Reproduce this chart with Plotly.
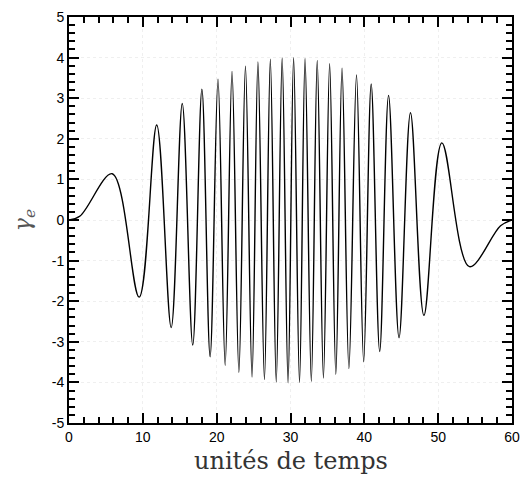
import plotly.graph_objects as go

# points of the signal (time, gamma_e): mostly its extrema
t_pts = [0, 1.5, 5.85, 9.5, 11.88, 13.84, 15.34, 16.76, 18.0, 19.11, 20.18,
         21.15, 22.08, 23.01, 23.9, 24.79, 25.59, 26.47, 27.27, 28.07, 28.87,
         29.67, 30.42, 31.22, 31.97, 32.82, 33.62, 34.46, 35.3, 36.14, 36.98,
         37.91, 38.94, 39.91, 40.93, 42.08, 43.28, 44.7, 46.25, 48.07, 50.5,
         54.24, 58.45, 60]
gamma_pts = [0, 0.1, 1.14, -1.90, 2.34, -2.65, 2.87, -3.08, 3.22, -3.37, 3.47,
             -3.58, 3.66, -3.75, 3.79, -3.87, 3.89, -3.93, 3.96, -3.99, 3.99,
             -4.01, 4.0, -4.0, 3.98, -3.97, 3.93, -3.89, 3.85, -3.80, 3.74,
             -3.66, 3.57, -3.49, 3.35, -3.24, 3.07, -2.90, 2.64, -2.35, 1.90,
             -1.15, -0.14, 0]

x_ticks = [0, 10, 20, 30, 40, 50, 60]
x_labels = ["0", "10", "20", "30", "40", "50", "60"]
y_ticks = [-5, -4, -3, -2, -1, 0, 1, 2, 3, 4, 5]
y_labels = ["-5", "-4", "-3", "-2", "-1", "0", "1", "2", "3", "4", "5"]

fig = go.Figure()
fig.add_trace(go.Scatter(
    x=t_pts, y=gamma_pts, mode="lines",
    line=dict(color="black", width=1.4, shape="spline", smoothing=1.0),
    hoverinfo="skip", showlegend=False))

axis_common = dict(
    showline=True, linecolor="black", linewidth=2, mirror="allticks",
    ticks="inside", ticklen=10, tickwidth=2, tickcolor="black",
    showgrid=True, gridcolor="#efefef", griddash="dot", gridwidth=1,
    zeroline=False,
    tickfont=dict(family="Liberation Sans, Arial", size=14, color="black"),
)

fig.update_xaxes(range=[0, 60], tickvals=x_ticks, ticktext=x_labels,
                 minor=dict(dtick=2, ticks="inside", ticklen=6, tickwidth=1.5,
                            tickcolor="black", showgrid=False),
                 **axis_common)
fig.update_yaxes(range=[-5, 5], tickvals=y_ticks, ticktext=y_labels,
                 minor=dict(dtick=0.2, ticks="inside", ticklen=6, tickwidth=1.5,
                            tickcolor="black", showgrid=False),
                 **axis_common)

fig.update_layout(
    width=529, height=480,
    margin=dict(l=69, r=9, t=12, b=57),
    paper_bgcolor="white", plot_bgcolor="white",
    annotations=[
        dict(text="unités de temps", xref="paper", yref="paper",
             x=0.5, y=-0.093, xanchor="center", yanchor="middle", showarrow=False,
             font=dict(family="DejaVu Serif", size=24, color="#333333")),
        dict(text="<i>γ<sub>e</sub></i>", xref="paper", yref="paper",
             x=-0.064, y=0.5, xanchor="right", yanchor="middle", showarrow=False,
             textangle=-90,
             font=dict(family="DejaVu Serif", size=22, color="#555555")),
    ],
)

fig.write_html("out.html")
